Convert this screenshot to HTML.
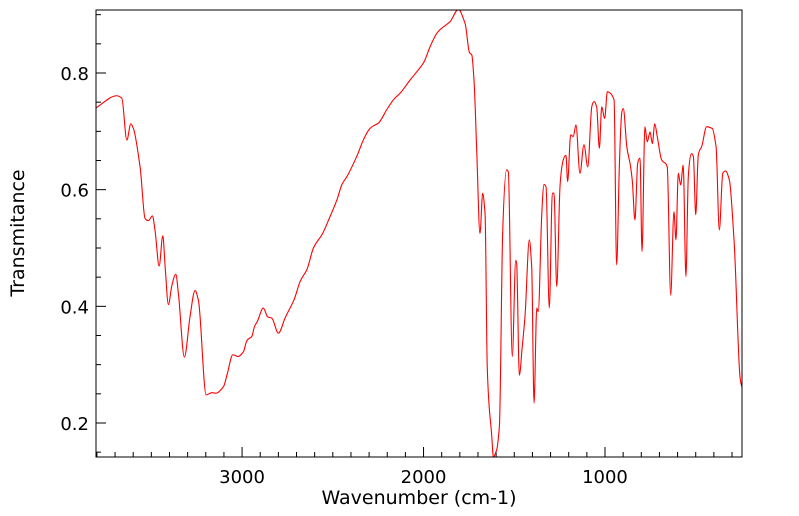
<!DOCTYPE html>
<html><head><meta charset="utf-8"><style>
html,body{margin:0;padding:0;background:#fff;}
svg{display:block;font-family:"DejaVu Sans","Liberation Sans",sans-serif;}
</style></head><body>
<svg id="chart" width="799" height="516" viewBox="0 0 799 516" xmlns="http://www.w3.org/2000/svg">
<defs><clipPath id="clip"><rect x="96" y="10" width="646" height="447"/></clipPath></defs>
<rect x="0" y="0" width="799" height="516" fill="#fff"/>
<g id="ticks"></g>
<path id="line" fill="none" stroke="#ff0000" stroke-width="1.1" clip-path="url(#clip)"/>
<rect x="96" y="10" width="646" height="447" fill="none" stroke="#000" stroke-width="1"/>
<text x="419" y="504" text-anchor="middle" font-size="19">Wavenumber (cm-1)</text>
<text transform="translate(24,233) rotate(-90)" text-anchor="middle" font-size="19">Transmitance</text>
</svg>
<script>
const wavenumbers = [3810,3690,3663,3635,3613,3599,3562,3535,3516,3494,3480,3457,3437,3424,3406,3388,3365,3351,3318,3287,3259,3241,3198,3167,3143,3103,3081,3051,3021,2993,2974,2947,2932,2916,2883,2859,2837,2800,2763,2714,2681,2644,2607,2561,2515,2478,2451,2423,2368,2332,2295,2249,2203,2166,2130,2074,2001,1964,1927,1854,1808,1771,1748,1734,1722,1707,1689,1674,1661,1649,1624,1615,1597,1582,1564,1542,1533,1511,1492,1487,1472,1456,1441,1417,1404,1391,1376,1368,1349,1336,1325,1307,1290,1281,1266,1248,1230,1215,1206,1189,1175,1160,1138,1116,1095,1073,1059,1046,1031,1018,1002,987,969,950,936,921,908,899,880,862,850,835,820,807,796,780,767,752,739,726,712,688,666,657,638,620,609,596,583,569,554,541,522,513,500,486,467,440,409,388,370,351,335,315,289,256,241];
const transmittance = [0.739,0.761,0.757,0.685,0.713,0.705,0.639,0.551,0.547,0.555,0.531,0.469,0.521,0.468,0.403,0.434,0.455,0.422,0.313,0.382,0.427,0.411,0.248,0.252,0.251,0.262,0.285,0.317,0.314,0.322,0.341,0.348,0.365,0.374,0.397,0.382,0.380,0.354,0.380,0.411,0.442,0.462,0.500,0.522,0.554,0.582,0.608,0.622,0.657,0.685,0.705,0.714,0.737,0.754,0.765,0.788,0.817,0.845,0.868,0.888,0.909,0.885,0.836,0.831,0.788,0.668,0.525,0.594,0.559,0.297,0.177,0.142,0.154,0.194,0.525,0.634,0.631,0.314,0.479,0.474,0.282,0.331,0.382,0.514,0.468,0.234,0.397,0.391,0.554,0.609,0.605,0.397,0.594,0.594,0.434,0.605,0.651,0.659,0.614,0.694,0.691,0.711,0.628,0.677,0.639,0.742,0.751,0.742,0.671,0.742,0.722,0.768,0.765,0.754,0.471,0.639,0.731,0.739,0.674,0.645,0.617,0.548,0.645,0.654,0.494,0.708,0.682,0.699,0.679,0.713,0.691,0.651,0.645,0.639,0.419,0.562,0.514,0.628,0.608,0.642,0.451,0.622,0.662,0.657,0.557,0.659,0.674,0.708,0.705,0.674,0.531,0.628,0.632,0.617,0.514,0.279,0.257];
const xTickLabels = [3000,2000,1000];
const yTickLabels = [0.2,0.4,0.6,0.8];

const X0=96,X1=742,Y0=10,Y1=457;
const W0=3805,W1=245,T0=0.1417,T1=0.908;
function xs(w){return X0+(W0-w)/(W0-W1)*(X1-X0);}
function ys(t){return Y1-(t-T0)/(T1-T0)*(Y1-Y0);}
const NS="http://www.w3.org/2000/svg";
const g=document.getElementById('ticks');
const svg=document.getElementById('chart');
function line(x1,y1,x2,y2){const l=document.createElementNS(NS,'line');l.setAttribute('x1',x1);l.setAttribute('y1',y1);l.setAttribute('x2',x2);l.setAttribute('y2',y2);l.setAttribute('stroke','#000');l.setAttribute('stroke-width','1');g.appendChild(l);return l;}
for(let w=3800;w>=300;w-=100){
  const x=xs(w);const major=(w%1000===0);
  const l=line(x,Y1,x,Y1-(major?10:5));
  
  
}
for(let i=3;i<=18;i++){
  const t=i*0.05;if(t>T1)break;
  const y=ys(t);const major=(i%4===0);
  const l=line(X0,y,X0+(major?10:5),y);
  
  
}
xTickLabels.forEach(v=>{
  const t=document.createElementNS(NS,'text');
  t.setAttribute('x',xs(v));t.setAttribute('y',483);t.setAttribute('text-anchor','middle');t.setAttribute('font-size','18');
  t.textContent=v;
  
  
  svg.appendChild(t);
});
yTickLabels.forEach(v=>{
  const t=document.createElementNS(NS,'text');
  t.setAttribute('x',89);t.setAttribute('y',ys(v)+7);t.setAttribute('text-anchor','end');t.setAttribute('font-size','18');
  t.textContent=v.toFixed(1);
  
  
  svg.appendChild(t);
});
const px=wavenumbers.map(xs), py=transmittance.map(ys);
const n=px.length, dl=[], m=[];
for(let i=0;i<n-1;i++) dl.push((py[i+1]-py[i])/(px[i+1]-px[i]));
for(let i=0;i<n;i++){
  if(i===0) m.push(dl[0]); else if(i===n-1) m.push(dl[n-2]);
  else if(dl[i-1]*dl[i]<=0) m.push(0);
  else { const a=dl[i-1],b=dl[i]; m.push(3*a*b/(a+2*b) ); }
}
let d='M'+px[0].toFixed(2)+' '+py[0].toFixed(2);
for(let i=0;i<n-1;i++){
  const h=(px[i+1]-px[i])/3;
  d+='C'+(px[i]+h).toFixed(2)+' '+(py[i]+m[i]*h).toFixed(2)+' '+(px[i+1]-h).toFixed(2)+' '+(py[i+1]-m[i+1]*h).toFixed(2)+' '+px[i+1].toFixed(2)+' '+py[i+1].toFixed(2);
}
document.getElementById('line').setAttribute('d',d);
</script>
</body></html>
